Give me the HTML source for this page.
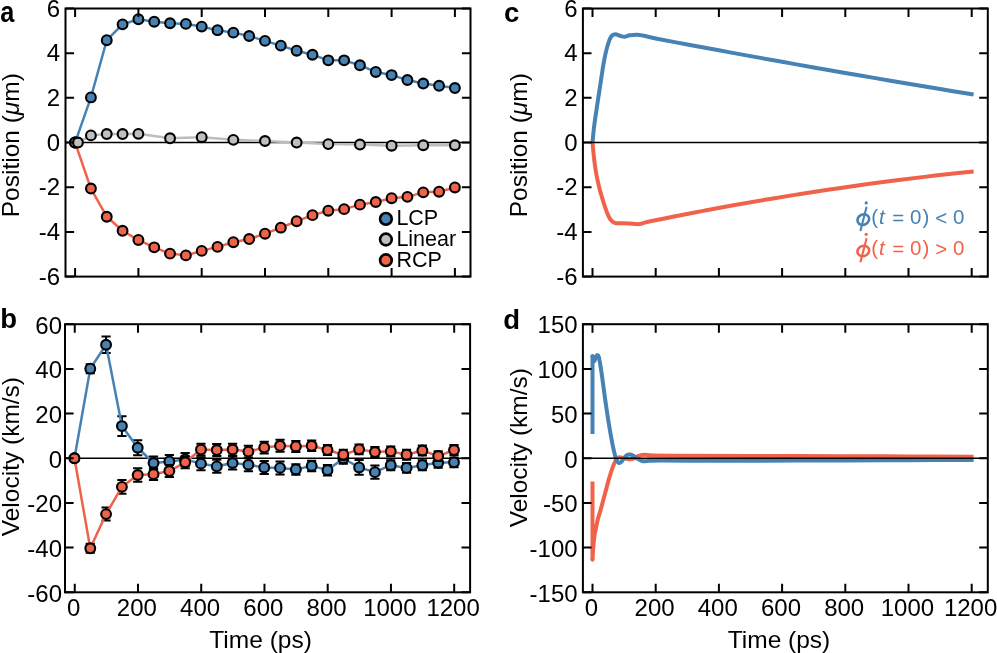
<!DOCTYPE html>
<html><head><meta charset="utf-8"><style>html,body{margin:0;padding:0;background:#fff;width:997px;height:653px;overflow:hidden}svg{display:block;will-change:transform}</style></head><body>
<svg width="997" height="653" viewBox="0 0 997 653" font-family="Liberation Sans, sans-serif" font-size="24">
<rect width="997" height="653" fill="#fff"/>
<line x1="65.5" y1="142.55" x2="470.5" y2="142.55" stroke="#000" stroke-width="1.6"/>
<path d="M75.10 142.55 L90.92 97.42 L106.75 40.22 L122.57 24.36 L138.40 19.22 L154.22 21.68 L170.05 23.24 L185.88 23.91 L201.70 26.60 L217.53 30.17 L233.35 32.63 L249.17 35.98 L265.00 40.89 L280.82 45.59 L296.65 50.72 L312.48 54.75 L328.30 60.33 L344.12 60.33 L359.95 65.25 L375.77 71.95 L391.60 75.08 L407.42 79.99 L423.25 83.57 L439.08 85.80 L454.90 88.04" fill="none" stroke="#4682B4" stroke-width="2.5" stroke-linejoin="round" stroke-linecap="round"/>
<circle cx="75.10" cy="142.55" r="4.9" fill="#4682B4" stroke="#000" stroke-width="2.1"/>
<circle cx="90.92" cy="97.42" r="4.9" fill="#4682B4" stroke="#000" stroke-width="2.1"/>
<circle cx="106.75" cy="40.22" r="4.9" fill="#4682B4" stroke="#000" stroke-width="2.1"/>
<circle cx="122.57" cy="24.36" r="4.9" fill="#4682B4" stroke="#000" stroke-width="2.1"/>
<circle cx="138.40" cy="19.22" r="4.9" fill="#4682B4" stroke="#000" stroke-width="2.1"/>
<circle cx="154.22" cy="21.68" r="4.9" fill="#4682B4" stroke="#000" stroke-width="2.1"/>
<circle cx="170.05" cy="23.24" r="4.9" fill="#4682B4" stroke="#000" stroke-width="2.1"/>
<circle cx="185.88" cy="23.91" r="4.9" fill="#4682B4" stroke="#000" stroke-width="2.1"/>
<circle cx="201.70" cy="26.60" r="4.9" fill="#4682B4" stroke="#000" stroke-width="2.1"/>
<circle cx="217.53" cy="30.17" r="4.9" fill="#4682B4" stroke="#000" stroke-width="2.1"/>
<circle cx="233.35" cy="32.63" r="4.9" fill="#4682B4" stroke="#000" stroke-width="2.1"/>
<circle cx="249.17" cy="35.98" r="4.9" fill="#4682B4" stroke="#000" stroke-width="2.1"/>
<circle cx="265.00" cy="40.89" r="4.9" fill="#4682B4" stroke="#000" stroke-width="2.1"/>
<circle cx="280.82" cy="45.59" r="4.9" fill="#4682B4" stroke="#000" stroke-width="2.1"/>
<circle cx="296.65" cy="50.72" r="4.9" fill="#4682B4" stroke="#000" stroke-width="2.1"/>
<circle cx="312.48" cy="54.75" r="4.9" fill="#4682B4" stroke="#000" stroke-width="2.1"/>
<circle cx="328.30" cy="60.33" r="4.9" fill="#4682B4" stroke="#000" stroke-width="2.1"/>
<circle cx="344.12" cy="60.33" r="4.9" fill="#4682B4" stroke="#000" stroke-width="2.1"/>
<circle cx="359.95" cy="65.25" r="4.9" fill="#4682B4" stroke="#000" stroke-width="2.1"/>
<circle cx="375.77" cy="71.95" r="4.9" fill="#4682B4" stroke="#000" stroke-width="2.1"/>
<circle cx="391.60" cy="75.08" r="4.9" fill="#4682B4" stroke="#000" stroke-width="2.1"/>
<circle cx="407.42" cy="79.99" r="4.9" fill="#4682B4" stroke="#000" stroke-width="2.1"/>
<circle cx="423.25" cy="83.57" r="4.9" fill="#4682B4" stroke="#000" stroke-width="2.1"/>
<circle cx="439.08" cy="85.80" r="4.9" fill="#4682B4" stroke="#000" stroke-width="2.1"/>
<circle cx="454.90" cy="88.04" r="4.9" fill="#4682B4" stroke="#000" stroke-width="2.1"/>
<path d="M75.10 142.55 L90.92 188.57 L106.75 216.73 L122.57 230.80 L138.40 239.96 L154.22 247.33 L170.05 253.59 L185.88 255.38 L201.70 250.91 L217.53 246.89 L233.35 242.20 L249.17 239.07 L265.00 233.71 L280.82 227.67 L296.65 221.19 L312.48 215.16 L328.30 210.69 L344.12 209.13 L359.95 204.66 L375.77 201.98 L391.60 198.18 L407.42 196.84 L423.25 192.37 L439.08 191.70 L454.90 187.46" fill="none" stroke="#F0634A" stroke-width="2.5" stroke-linejoin="round" stroke-linecap="round"/>
<circle cx="75.10" cy="142.55" r="4.9" fill="#F0634A" stroke="#000" stroke-width="2.1"/>
<circle cx="90.92" cy="188.57" r="4.9" fill="#F0634A" stroke="#000" stroke-width="2.1"/>
<circle cx="106.75" cy="216.73" r="4.9" fill="#F0634A" stroke="#000" stroke-width="2.1"/>
<circle cx="122.57" cy="230.80" r="4.9" fill="#F0634A" stroke="#000" stroke-width="2.1"/>
<circle cx="138.40" cy="239.96" r="4.9" fill="#F0634A" stroke="#000" stroke-width="2.1"/>
<circle cx="154.22" cy="247.33" r="4.9" fill="#F0634A" stroke="#000" stroke-width="2.1"/>
<circle cx="170.05" cy="253.59" r="4.9" fill="#F0634A" stroke="#000" stroke-width="2.1"/>
<circle cx="185.88" cy="255.38" r="4.9" fill="#F0634A" stroke="#000" stroke-width="2.1"/>
<circle cx="201.70" cy="250.91" r="4.9" fill="#F0634A" stroke="#000" stroke-width="2.1"/>
<circle cx="217.53" cy="246.89" r="4.9" fill="#F0634A" stroke="#000" stroke-width="2.1"/>
<circle cx="233.35" cy="242.20" r="4.9" fill="#F0634A" stroke="#000" stroke-width="2.1"/>
<circle cx="249.17" cy="239.07" r="4.9" fill="#F0634A" stroke="#000" stroke-width="2.1"/>
<circle cx="265.00" cy="233.71" r="4.9" fill="#F0634A" stroke="#000" stroke-width="2.1"/>
<circle cx="280.82" cy="227.67" r="4.9" fill="#F0634A" stroke="#000" stroke-width="2.1"/>
<circle cx="296.65" cy="221.19" r="4.9" fill="#F0634A" stroke="#000" stroke-width="2.1"/>
<circle cx="312.48" cy="215.16" r="4.9" fill="#F0634A" stroke="#000" stroke-width="2.1"/>
<circle cx="328.30" cy="210.69" r="4.9" fill="#F0634A" stroke="#000" stroke-width="2.1"/>
<circle cx="344.12" cy="209.13" r="4.9" fill="#F0634A" stroke="#000" stroke-width="2.1"/>
<circle cx="359.95" cy="204.66" r="4.9" fill="#F0634A" stroke="#000" stroke-width="2.1"/>
<circle cx="375.77" cy="201.98" r="4.9" fill="#F0634A" stroke="#000" stroke-width="2.1"/>
<circle cx="391.60" cy="198.18" r="4.9" fill="#F0634A" stroke="#000" stroke-width="2.1"/>
<circle cx="407.42" cy="196.84" r="4.9" fill="#F0634A" stroke="#000" stroke-width="2.1"/>
<circle cx="423.25" cy="192.37" r="4.9" fill="#F0634A" stroke="#000" stroke-width="2.1"/>
<circle cx="439.08" cy="191.70" r="4.9" fill="#F0634A" stroke="#000" stroke-width="2.1"/>
<circle cx="454.90" cy="187.46" r="4.9" fill="#F0634A" stroke="#000" stroke-width="2.1"/>
<path d="M75.10 142.55 L77.95 142.55 L90.92 135.40 L106.75 134.06 L122.57 134.06 L138.40 133.84 L170.05 138.31 L201.70 137.19 L233.35 139.87 L265.00 140.99 L296.65 142.55 L328.30 144.11 L359.95 144.56 L391.60 145.68 L423.25 145.23 L454.90 145.23" fill="none" stroke="#BDBDBD" stroke-width="2.5" stroke-linejoin="round" stroke-linecap="round"/>
<circle cx="75.10" cy="142.55" r="4.9" fill="#BFBFBF" stroke="#000" stroke-width="2.1"/>
<circle cx="77.95" cy="142.55" r="4.9" fill="#BFBFBF" stroke="#000" stroke-width="2.1"/>
<circle cx="90.92" cy="135.40" r="4.9" fill="#BFBFBF" stroke="#000" stroke-width="2.1"/>
<circle cx="106.75" cy="134.06" r="4.9" fill="#BFBFBF" stroke="#000" stroke-width="2.1"/>
<circle cx="122.57" cy="134.06" r="4.9" fill="#BFBFBF" stroke="#000" stroke-width="2.1"/>
<circle cx="138.40" cy="133.84" r="4.9" fill="#BFBFBF" stroke="#000" stroke-width="2.1"/>
<circle cx="170.05" cy="138.31" r="4.9" fill="#BFBFBF" stroke="#000" stroke-width="2.1"/>
<circle cx="201.70" cy="137.19" r="4.9" fill="#BFBFBF" stroke="#000" stroke-width="2.1"/>
<circle cx="233.35" cy="139.87" r="4.9" fill="#BFBFBF" stroke="#000" stroke-width="2.1"/>
<circle cx="265.00" cy="140.99" r="4.9" fill="#BFBFBF" stroke="#000" stroke-width="2.1"/>
<circle cx="296.65" cy="142.55" r="4.9" fill="#BFBFBF" stroke="#000" stroke-width="2.1"/>
<circle cx="328.30" cy="144.11" r="4.9" fill="#BFBFBF" stroke="#000" stroke-width="2.1"/>
<circle cx="359.95" cy="144.56" r="4.9" fill="#BFBFBF" stroke="#000" stroke-width="2.1"/>
<circle cx="391.60" cy="145.68" r="4.9" fill="#BFBFBF" stroke="#000" stroke-width="2.1"/>
<circle cx="423.25" cy="145.23" r="4.9" fill="#BFBFBF" stroke="#000" stroke-width="2.1"/>
<circle cx="454.90" cy="145.23" r="4.9" fill="#BFBFBF" stroke="#000" stroke-width="2.1"/>
<rect x="65.5" y="8.5" width="405.00" height="268.10" fill="none" stroke="#000" stroke-width="2"/>
<path d="M75.10 276.60V268.10M75.10 8.50V17.00M138.40 276.60V268.10M138.40 8.50V17.00M201.70 276.60V268.10M201.70 8.50V17.00M265.00 276.60V268.10M265.00 8.50V17.00M328.30 276.60V268.10M328.30 8.50V17.00M391.60 276.60V268.10M391.60 8.50V17.00M454.90 276.60V268.10M454.90 8.50V17.00" stroke="#000" stroke-width="2" fill="none"/>
<path d="M65.50 8.50H74.10M470.50 8.50H461.90M65.50 53.18H74.10M470.50 53.18H461.90M65.50 97.87H74.10M470.50 97.87H461.90M65.50 142.55H74.10M470.50 142.55H461.90M65.50 187.23H74.10M470.50 187.23H461.90M65.50 231.92H74.10M470.50 231.92H461.90M65.50 276.60H74.10M470.50 276.60H461.90" stroke="#000" stroke-width="2" fill="none"/>
<text x="60.20" y="16.76" text-anchor="end">6</text>
<text x="60.20" y="61.44" text-anchor="end">4</text>
<text x="60.20" y="106.13" text-anchor="end">2</text>
<text x="60.20" y="150.81" text-anchor="end">0</text>
<text x="60.20" y="195.49" text-anchor="end">-2</text>
<text x="60.20" y="240.18" text-anchor="end">-4</text>
<text x="60.20" y="284.86" text-anchor="end">-6</text>
<circle cx="385.9" cy="218.90" r="5.85" fill="#4682B4" stroke="#000" stroke-width="2.6"/>
<text x="396.4" y="225.00" font-size="21.5">LCP</text>
<circle cx="385.9" cy="239.50" r="5.85" fill="#BFBFBF" stroke="#000" stroke-width="2.6"/>
<text x="396.4" y="246.10" font-size="21.5">Linear</text>
<circle cx="385.9" cy="260.20" r="5.85" fill="#F0634A" stroke="#000" stroke-width="2.6"/>
<text x="396.4" y="267.30" font-size="21.5">RCP</text>
<line x1="65.0" y1="458.25" x2="470.1" y2="458.25" stroke="#000" stroke-width="1.6"/>
<path d="M74.45 458.25V458.25M69.85 458.25H79.05M69.85 458.25H79.05M90.27 364.20V373.13M85.67 364.20H94.86M85.67 373.13H94.86M106.08 336.50V353.03M101.48 336.50H110.68M101.48 353.03H110.68M121.90 416.25V435.91M117.30 416.25H126.50M117.30 435.91H126.50M137.71 440.15V455.35M133.11 440.15H142.31M133.11 455.35H142.31M153.53 456.51V469.46M148.93 456.51H158.12M148.93 469.46H158.12M169.34 454.94V467.90M164.74 454.94H173.94M164.74 467.90H173.94M185.16 452.93V465.89M180.56 452.93H189.76M180.56 465.89H189.76M200.97 457.18V470.13M196.37 457.18H205.57M196.37 470.13H205.57M216.79 459.86V472.82M212.19 459.86H221.39M212.19 472.82H221.39M232.60 456.51V469.46M228.00 456.51H237.20M228.00 469.46H237.20M248.42 458.29V471.25M243.82 458.29H253.02M243.82 471.25H253.02M264.23 460.98V473.93M259.63 460.98H268.83M259.63 473.93H268.83M280.05 461.42V474.38M275.44 461.42H284.65M275.44 474.38H284.65M295.86 464.21V474.71M291.26 464.21H300.46M291.26 474.71H300.46M311.68 460.64V471.14M307.07 460.64H316.28M307.07 471.14H316.28M327.49 464.88V475.38M322.89 464.88H332.09M322.89 475.38H332.09M343.31 453.27V463.77M338.70 453.27H347.91M338.70 463.77H347.91M359.12 460.08V474.83M354.52 460.08H363.72M354.52 474.83H363.72M374.94 465.44V478.85M370.33 465.44H379.54M370.33 478.85H379.54M390.75 460.31V470.13M386.15 460.31H395.35M386.15 470.13H395.35M406.56 462.99V472.82M401.96 462.99H411.17M401.96 472.82H411.17M422.38 460.31V470.13M417.78 460.31H426.98M417.78 470.13H426.98M438.19 457.85V467.68M433.59 457.85H442.80M433.59 467.68H442.80M454.01 457.40V467.23M449.41 457.40H458.61M449.41 467.23H458.61" stroke="#000" stroke-width="2" fill="none"/>
<path d="M74.45 458.25 L90.27 368.67 L106.08 344.76 L121.90 426.08 L137.71 447.75 L153.53 462.99 L169.34 461.42 L185.16 459.41 L200.97 463.66 L216.79 466.34 L232.60 462.99 L248.42 464.77 L264.23 467.45 L280.05 467.90 L295.86 469.46 L311.68 465.89 L327.49 470.13 L343.31 458.52 L359.12 467.45 L374.94 472.15 L390.75 465.22 L406.56 467.90 L422.38 465.22 L438.19 462.76 L454.01 462.32" fill="none" stroke="#4682B4" stroke-width="2.5" stroke-linejoin="round" stroke-linecap="round"/>
<circle cx="74.45" cy="458.25" r="4.9" fill="#4682B4" stroke="#000" stroke-width="2.1"/>
<circle cx="90.27" cy="368.67" r="4.9" fill="#4682B4" stroke="#000" stroke-width="2.1"/>
<circle cx="106.08" cy="344.76" r="4.9" fill="#4682B4" stroke="#000" stroke-width="2.1"/>
<circle cx="121.90" cy="426.08" r="4.9" fill="#4682B4" stroke="#000" stroke-width="2.1"/>
<circle cx="137.71" cy="447.75" r="4.9" fill="#4682B4" stroke="#000" stroke-width="2.1"/>
<circle cx="153.53" cy="462.99" r="4.9" fill="#4682B4" stroke="#000" stroke-width="2.1"/>
<circle cx="169.34" cy="461.42" r="4.9" fill="#4682B4" stroke="#000" stroke-width="2.1"/>
<circle cx="185.16" cy="459.41" r="4.9" fill="#4682B4" stroke="#000" stroke-width="2.1"/>
<circle cx="200.97" cy="463.66" r="4.9" fill="#4682B4" stroke="#000" stroke-width="2.1"/>
<circle cx="216.79" cy="466.34" r="4.9" fill="#4682B4" stroke="#000" stroke-width="2.1"/>
<circle cx="232.60" cy="462.99" r="4.9" fill="#4682B4" stroke="#000" stroke-width="2.1"/>
<circle cx="248.42" cy="464.77" r="4.9" fill="#4682B4" stroke="#000" stroke-width="2.1"/>
<circle cx="264.23" cy="467.45" r="4.9" fill="#4682B4" stroke="#000" stroke-width="2.1"/>
<circle cx="280.05" cy="467.90" r="4.9" fill="#4682B4" stroke="#000" stroke-width="2.1"/>
<circle cx="295.86" cy="469.46" r="4.9" fill="#4682B4" stroke="#000" stroke-width="2.1"/>
<circle cx="311.68" cy="465.89" r="4.9" fill="#4682B4" stroke="#000" stroke-width="2.1"/>
<circle cx="327.49" cy="470.13" r="4.9" fill="#4682B4" stroke="#000" stroke-width="2.1"/>
<circle cx="343.31" cy="458.52" r="4.9" fill="#4682B4" stroke="#000" stroke-width="2.1"/>
<circle cx="359.12" cy="467.45" r="4.9" fill="#4682B4" stroke="#000" stroke-width="2.1"/>
<circle cx="374.94" cy="472.15" r="4.9" fill="#4682B4" stroke="#000" stroke-width="2.1"/>
<circle cx="390.75" cy="465.22" r="4.9" fill="#4682B4" stroke="#000" stroke-width="2.1"/>
<circle cx="406.56" cy="467.90" r="4.9" fill="#4682B4" stroke="#000" stroke-width="2.1"/>
<circle cx="422.38" cy="465.22" r="4.9" fill="#4682B4" stroke="#000" stroke-width="2.1"/>
<circle cx="438.19" cy="462.76" r="4.9" fill="#4682B4" stroke="#000" stroke-width="2.1"/>
<circle cx="454.01" cy="462.32" r="4.9" fill="#4682B4" stroke="#000" stroke-width="2.1"/>
<path d="M74.45 458.25V458.25M69.85 458.25H79.05M69.85 458.25H79.05M90.27 543.81V552.75M85.67 543.81H94.86M85.67 552.75H94.86M106.08 507.62V520.58M101.48 507.62H110.68M101.48 520.58H110.68M121.90 479.92V493.77M117.30 479.92H126.50M117.30 493.77H126.50M137.71 468.30V481.71M133.11 468.30H142.31M133.11 481.71H142.31M153.53 468.24V480.08M148.93 468.24H158.12M148.93 480.08H158.12M169.34 465.11V476.95M164.74 465.11H173.94M164.74 476.95H173.94M185.16 456.40V468.24M180.56 456.40H189.76M180.56 468.24H189.76M200.97 443.66V455.50M196.37 443.66H205.57M196.37 455.50H205.57M216.79 444.11V455.95M212.19 444.11H221.39M212.19 455.95H221.39M232.60 443.66V455.50M228.00 443.66H237.20M228.00 455.50H237.20M248.42 445.67V457.51M243.82 445.67H253.02M243.82 457.51H253.02M264.23 441.65V453.49M259.63 441.65H268.83M259.63 453.49H268.83M280.05 439.86V451.70M275.44 439.86H284.65M275.44 451.70H284.65M295.86 440.98V451.93M291.26 440.98H300.46M291.26 451.93H300.46M311.68 440.53V451.03M307.07 440.53H316.28M307.07 451.03H316.28M327.49 445.11V454.94M322.89 445.11H332.09M322.89 454.94H332.09M343.31 449.81V459.64M338.70 449.81H347.91M338.70 459.64H347.91M359.12 444.44V454.27M354.52 444.44H363.72M354.52 454.27H363.72M374.94 447.12V456.95M370.33 447.12H379.54M370.33 456.95H379.54M390.75 446.45V456.28M386.15 446.45H395.35M386.15 456.28H395.35M406.56 449.81V459.64M401.96 449.81H411.17M401.96 459.64H411.17M422.38 445.56V455.39M417.78 445.56H426.98M417.78 455.39H426.98M438.19 451.15V460.98M433.59 451.15H442.80M433.59 460.98H442.80M454.01 445.11V454.94M449.41 445.11H458.61M449.41 454.94H458.61" stroke="#000" stroke-width="2" fill="none"/>
<path d="M74.45 458.25 L90.27 548.28 L106.08 514.10 L121.90 486.85 L137.71 475.00 L153.53 474.16 L169.34 471.03 L185.16 462.32 L200.97 449.58 L216.79 450.03 L232.60 449.58 L248.42 451.59 L264.23 447.57 L280.05 445.78 L295.86 446.45 L311.68 445.78 L327.49 450.03 L343.31 454.72 L359.12 449.36 L374.94 452.04 L390.75 451.37 L406.56 454.72 L422.38 450.48 L438.19 456.06 L454.01 450.03" fill="none" stroke="#F0634A" stroke-width="2.5" stroke-linejoin="round" stroke-linecap="round"/>
<circle cx="74.45" cy="458.25" r="4.9" fill="#F0634A" stroke="#000" stroke-width="2.1"/>
<circle cx="90.27" cy="548.28" r="4.9" fill="#F0634A" stroke="#000" stroke-width="2.1"/>
<circle cx="106.08" cy="514.10" r="4.9" fill="#F0634A" stroke="#000" stroke-width="2.1"/>
<circle cx="121.90" cy="486.85" r="4.9" fill="#F0634A" stroke="#000" stroke-width="2.1"/>
<circle cx="137.71" cy="475.00" r="4.9" fill="#F0634A" stroke="#000" stroke-width="2.1"/>
<circle cx="153.53" cy="474.16" r="4.9" fill="#F0634A" stroke="#000" stroke-width="2.1"/>
<circle cx="169.34" cy="471.03" r="4.9" fill="#F0634A" stroke="#000" stroke-width="2.1"/>
<circle cx="185.16" cy="462.32" r="4.9" fill="#F0634A" stroke="#000" stroke-width="2.1"/>
<circle cx="200.97" cy="449.58" r="4.9" fill="#F0634A" stroke="#000" stroke-width="2.1"/>
<circle cx="216.79" cy="450.03" r="4.9" fill="#F0634A" stroke="#000" stroke-width="2.1"/>
<circle cx="232.60" cy="449.58" r="4.9" fill="#F0634A" stroke="#000" stroke-width="2.1"/>
<circle cx="248.42" cy="451.59" r="4.9" fill="#F0634A" stroke="#000" stroke-width="2.1"/>
<circle cx="264.23" cy="447.57" r="4.9" fill="#F0634A" stroke="#000" stroke-width="2.1"/>
<circle cx="280.05" cy="445.78" r="4.9" fill="#F0634A" stroke="#000" stroke-width="2.1"/>
<circle cx="295.86" cy="446.45" r="4.9" fill="#F0634A" stroke="#000" stroke-width="2.1"/>
<circle cx="311.68" cy="445.78" r="4.9" fill="#F0634A" stroke="#000" stroke-width="2.1"/>
<circle cx="327.49" cy="450.03" r="4.9" fill="#F0634A" stroke="#000" stroke-width="2.1"/>
<circle cx="343.31" cy="454.72" r="4.9" fill="#F0634A" stroke="#000" stroke-width="2.1"/>
<circle cx="359.12" cy="449.36" r="4.9" fill="#F0634A" stroke="#000" stroke-width="2.1"/>
<circle cx="374.94" cy="452.04" r="4.9" fill="#F0634A" stroke="#000" stroke-width="2.1"/>
<circle cx="390.75" cy="451.37" r="4.9" fill="#F0634A" stroke="#000" stroke-width="2.1"/>
<circle cx="406.56" cy="454.72" r="4.9" fill="#F0634A" stroke="#000" stroke-width="2.1"/>
<circle cx="422.38" cy="450.48" r="4.9" fill="#F0634A" stroke="#000" stroke-width="2.1"/>
<circle cx="438.19" cy="456.06" r="4.9" fill="#F0634A" stroke="#000" stroke-width="2.1"/>
<circle cx="454.01" cy="450.03" r="4.9" fill="#F0634A" stroke="#000" stroke-width="2.1"/>
<rect x="65.0" y="324.2" width="405.10" height="268.10" fill="none" stroke="#000" stroke-width="2"/>
<path d="M74.75 592.30V583.80M74.75 324.20V332.70M137.99 592.30V583.80M137.99 324.20V332.70M201.23 592.30V583.80M201.23 324.20V332.70M264.47 592.30V583.80M264.47 324.20V332.70M327.71 592.30V583.80M327.71 324.20V332.70M390.95 592.30V583.80M390.95 324.20V332.70M454.19 592.30V583.80M454.19 324.20V332.70" stroke="#000" stroke-width="2" fill="none"/>
<text x="73.65" y="615.6" text-anchor="middle">0</text>
<text x="136.89" y="615.6" text-anchor="middle">200</text>
<text x="200.13" y="615.6" text-anchor="middle">400</text>
<text x="263.37" y="615.6" text-anchor="middle">600</text>
<text x="326.61" y="615.6" text-anchor="middle">800</text>
<text x="389.85" y="615.6" text-anchor="middle">1000</text>
<text x="453.09" y="615.6" text-anchor="middle">1200</text>
<path d="M65.00 324.21H73.60M470.10 324.21H461.50M65.00 368.89H73.60M470.10 368.89H461.50M65.00 413.57H73.60M470.10 413.57H461.50M65.00 458.25H73.60M470.10 458.25H461.50M65.00 502.93H73.60M470.10 502.93H461.50M65.00 547.61H73.60M470.10 547.61H461.50M65.00 592.29H73.60M470.10 592.29H461.50" stroke="#000" stroke-width="2" fill="none"/>
<text x="62.00" y="333.57" text-anchor="end">60</text>
<text x="62.00" y="378.25" text-anchor="end">40</text>
<text x="62.00" y="422.93" text-anchor="end">20</text>
<text x="62.00" y="467.61" text-anchor="end">0</text>
<text x="62.00" y="512.29" text-anchor="end">-20</text>
<text x="62.00" y="556.97" text-anchor="end">-40</text>
<text x="62.00" y="601.65" text-anchor="end">-60</text>
<path d="M592.50 142.55 C592.73 144.93 593.31 151.90 593.89 156.85 C594.47 161.80 595.08 167.13 595.98 172.26 C596.88 177.40 598.29 183.51 599.29 187.68 C600.29 191.85 601.01 194.01 601.98 197.29 C602.95 200.56 604.09 204.29 605.14 207.34 C606.19 210.40 607.25 213.37 608.30 215.61 C609.35 217.84 610.41 219.56 611.46 220.75 C612.51 221.94 613.57 222.35 614.62 222.76 C615.67 223.17 615.41 223.09 617.78 223.20 C620.15 223.32 625.26 223.28 628.84 223.43 C632.42 223.58 636.06 224.38 639.27 224.10 C642.48 223.82 642.74 222.94 648.12 221.75 C653.49 220.57 662.34 218.81 671.50 216.99 C680.66 215.18 692.57 212.86 703.10 210.87 C713.63 208.88 724.17 206.93 734.70 205.04 C745.23 203.15 755.77 201.32 766.30 199.54 C776.83 197.76 787.37 196.03 797.90 194.36 C808.43 192.69 818.97 191.08 829.50 189.51 C840.03 187.95 850.57 186.44 861.10 184.98 C871.63 183.52 882.17 182.11 892.70 180.75 C903.23 179.40 913.77 178.11 924.30 176.87 C934.83 175.62 947.68 174.18 955.90 173.27 C964.12 172.36 970.65 171.72 973.60 171.42" fill="none" stroke="#F0634A" stroke-width="4.0" stroke-linejoin="round" stroke-linecap="butt"/>
<path d="M592.50 142.55 C592.79 139.72 593.37 132.38 594.24 125.57 C595.11 118.76 596.58 109.26 597.71 101.66 C598.85 94.07 600.03 86.51 601.03 79.99 C602.03 73.48 602.80 67.67 603.72 62.57 C604.64 57.46 605.59 53.18 606.56 49.38 C607.54 45.59 608.61 42.12 609.56 39.78 C610.52 37.43 611.28 36.24 612.28 35.31 C613.28 34.38 614.28 34.12 615.57 34.19 C616.85 34.27 618.54 35.31 619.99 35.76 C621.45 36.20 622.67 36.95 624.29 36.87 C625.91 36.80 627.55 35.68 629.72 35.31 C631.89 34.94 634.95 34.56 637.31 34.64 C639.67 34.71 640.82 35.10 643.88 35.76 C646.95 36.41 648.46 37.09 655.70 38.55 C662.94 40.00 676.77 42.53 687.30 44.49 C697.83 46.45 708.37 48.39 718.90 50.32 C729.43 52.26 739.97 54.20 750.50 56.11 C761.03 58.02 771.57 59.90 782.10 61.78 C792.63 63.67 803.17 65.56 813.70 67.41 C824.23 69.27 834.77 71.10 845.30 72.93 C855.83 74.76 866.37 76.58 876.90 78.38 C887.43 80.19 897.97 81.99 908.50 83.77 C919.03 85.55 929.25 87.26 940.10 89.06 C950.95 90.87 968.01 93.66 973.60 94.58" fill="none" stroke="#4682B4" stroke-width="4.0" stroke-linejoin="round" stroke-linecap="butt"/>
<line x1="582.9" y1="142.55" x2="987.8" y2="142.55" stroke="#000" stroke-width="1.6"/>
<rect x="582.9" y="8.5" width="404.90" height="268.10" fill="none" stroke="#000" stroke-width="2"/>
<path d="M592.50 276.60V268.10M592.50 8.50V17.00M655.70 276.60V268.10M655.70 8.50V17.00M718.90 276.60V268.10M718.90 8.50V17.00M782.10 276.60V268.10M782.10 8.50V17.00M845.30 276.60V268.10M845.30 8.50V17.00M908.50 276.60V268.10M908.50 8.50V17.00M971.70 276.60V268.10M971.70 8.50V17.00" stroke="#000" stroke-width="2" fill="none"/>
<path d="M582.90 8.50H591.50M987.80 8.50H979.20M582.90 53.18H591.50M987.80 53.18H979.20M582.90 97.87H591.50M987.80 97.87H979.20M582.90 142.55H591.50M987.80 142.55H979.20M582.90 187.23H591.50M987.80 187.23H979.20M582.90 231.92H591.50M987.80 231.92H979.20M582.90 276.60H591.50M987.80 276.60H979.20" stroke="#000" stroke-width="2" fill="none"/>
<text x="577.60" y="16.76" text-anchor="end">6</text>
<text x="577.60" y="61.44" text-anchor="end">4</text>
<text x="577.60" y="106.13" text-anchor="end">2</text>
<text x="577.60" y="150.81" text-anchor="end">0</text>
<text x="577.60" y="195.49" text-anchor="end">-2</text>
<text x="577.60" y="240.18" text-anchor="end">-4</text>
<text x="577.60" y="284.86" text-anchor="end">-6</text>
<path d="M592.50 481.49L592.50 559.51 C592.58 558.12 592.79 553.92 592.97 551.19 C593.16 548.47 593.34 545.83 593.61 543.15 C593.87 540.47 594.19 537.49 594.55 535.11 C594.92 532.73 595.26 531.53 595.82 528.85 C596.37 526.17 597.16 521.85 597.87 519.02 C598.58 516.19 599.19 515.00 600.08 511.87 C600.98 508.74 602.09 504.57 603.24 500.25 C604.40 495.93 606.04 489.68 607.04 485.95 C608.04 482.23 608.35 480.89 609.25 477.91 C610.14 474.93 611.41 470.84 612.41 468.08 C613.41 465.33 614.46 462.99 615.25 461.38 C616.04 459.77 616.46 459.10 617.15 458.43 C617.83 457.76 618.31 457.42 619.36 457.36 C620.41 457.30 621.85 457.77 623.47 458.07 C625.09 458.37 627.35 459.07 629.09 459.14 C630.83 459.22 632.31 459.04 633.90 458.52 C635.49 458.00 636.79 456.63 638.64 456.02 C640.48 455.41 642.53 454.93 644.96 454.85 C647.38 454.78 646.11 455.42 653.17 455.57 C660.23 455.72 671.08 455.69 687.30 455.75 C703.52 455.81 724.17 455.85 750.50 455.93 C776.83 456.00 818.97 456.11 845.30 456.19 C871.63 456.28 887.12 456.36 908.50 456.46 C929.88 456.57 962.75 456.76 973.60 456.82" fill="none" stroke="#F0634A" stroke-width="4.0" stroke-linejoin="round" stroke-linecap="butt"/>
<circle cx="592.50" cy="559.51" r="2.0" fill="#F0634A"/>
<path d="M592.50 433.94L592.50 356.37 C592.65 356.89 593.10 358.68 593.38 359.50 C593.67 360.32 593.91 361.43 594.24 361.28 C594.56 361.13 594.98 359.50 595.34 358.60 C595.71 357.71 596.06 356.47 596.45 355.92 C596.85 355.37 597.29 355.00 597.71 355.30 C598.14 355.59 598.35 354.85 598.98 357.71 C599.61 360.57 600.48 365.53 601.51 372.45 C602.53 379.38 603.90 390.63 605.14 399.27 C606.38 407.90 607.72 416.84 608.93 424.29 C610.14 431.74 611.46 439.04 612.41 443.95 C613.36 448.87 613.99 451.22 614.62 453.78 C615.25 456.34 615.46 457.77 616.20 459.32 C616.94 460.87 618.04 462.82 619.04 463.08 C620.04 463.33 621.06 462.03 622.20 460.84 C623.35 459.65 624.75 456.97 625.90 455.93 C627.05 454.88 627.89 454.65 629.09 454.59 C630.29 454.53 631.78 454.91 633.11 455.57 C634.43 456.22 635.45 457.58 637.06 458.52 C638.66 459.46 640.74 460.81 642.74 461.20 C644.75 461.59 646.01 460.95 649.06 460.84 C652.12 460.74 654.70 460.60 661.07 460.57 C667.44 460.55 672.40 460.67 687.30 460.71 C702.20 460.74 724.17 460.85 750.50 460.80 C776.83 460.74 818.97 460.51 845.30 460.39 C871.63 460.28 887.12 460.21 908.50 460.13 C929.88 460.04 962.75 459.94 973.60 459.90" fill="none" stroke="#4682B4" stroke-width="4.0" stroke-linejoin="round" stroke-linecap="butt"/>
<circle cx="592.50" cy="356.37" r="2.0" fill="#4682B4"/>
<line x1="582.9" y1="458.25" x2="987.8" y2="458.25" stroke="#000" stroke-width="1.6"/>
<rect x="582.9" y="324.2" width="404.90" height="268.10" fill="none" stroke="#000" stroke-width="2"/>
<path d="M592.50 592.30V583.80M592.50 324.20V332.70M655.70 592.30V583.80M655.70 324.20V332.70M718.90 592.30V583.80M718.90 324.20V332.70M782.10 592.30V583.80M782.10 324.20V332.70M845.30 592.30V583.80M845.30 324.20V332.70M908.50 592.30V583.80M908.50 324.20V332.70M971.70 592.30V583.80M971.70 324.20V332.70" stroke="#000" stroke-width="2" fill="none"/>
<text x="591.40" y="615.6" text-anchor="middle">0</text>
<text x="654.60" y="615.6" text-anchor="middle">200</text>
<text x="717.80" y="615.6" text-anchor="middle">400</text>
<text x="781.00" y="615.6" text-anchor="middle">600</text>
<text x="844.20" y="615.6" text-anchor="middle">800</text>
<text x="907.40" y="615.6" text-anchor="middle">1000</text>
<text x="970.60" y="615.6" text-anchor="middle">1200</text>
<path d="M582.90 324.19H591.50M987.80 324.19H979.20M582.90 368.88H591.50M987.80 368.88H979.20M582.90 413.56H591.50M987.80 413.56H979.20M582.90 458.25H591.50M987.80 458.25H979.20M582.90 502.94H591.50M987.80 502.94H979.20M582.90 547.62H591.50M987.80 547.62H979.20M582.90 592.31H591.50M987.80 592.31H979.20" stroke="#000" stroke-width="2" fill="none"/>
<text x="577.60" y="333.45" text-anchor="end">150</text>
<text x="577.60" y="378.14" text-anchor="end">100</text>
<text x="577.60" y="422.82" text-anchor="end">50</text>
<text x="577.60" y="467.51" text-anchor="end">0</text>
<text x="577.60" y="512.19" text-anchor="end">-50</text>
<text x="577.60" y="556.88" text-anchor="end">-100</text>
<text x="577.60" y="601.57" text-anchor="end">-150</text>
<text x="260.6" y="648" text-anchor="middle" font-size="24.5">Time (ps)</text>
<text x="779.0" y="648" text-anchor="middle" font-size="24.5">Time (ps)</text>
<text transform="translate(18.6,145.2) rotate(-90)" text-anchor="middle" font-size="24.5">Position (<tspan font-style="italic">μ</tspan>m)</text>
<text transform="translate(18.6,456.6) rotate(-90)" text-anchor="middle" font-size="24.5">Velocity (km/s)</text>
<text transform="translate(526.7,145.2) rotate(-90)" text-anchor="middle" font-size="24.5">Position (<tspan font-style="italic">μ</tspan>m)</text>
<text transform="translate(526.7,447.7) rotate(-90)" text-anchor="middle" font-size="24.5">Velocity (km/s)</text>
<text transform="translate(0.3,21.9) scale(0.92,1.04)" font-weight="bold" font-size="27.5">a</text>
<text transform="translate(0.3,328.0) scale(1,1)" font-weight="bold" font-size="27.5">b</text>
<text transform="translate(504.0,21.8) scale(1,1)" font-weight="bold" font-size="27.5">c</text>
<text transform="translate(503.2,328.5) scale(1,1)" font-weight="bold" font-size="27.5">d</text>
<g stroke="#4682B4" fill="none"><ellipse cx="863.3" cy="219.60" rx="6.0" ry="5.1" stroke-width="2.6" transform="rotate(-25 863.3 219.60)"/><path d="M866.4 207.60L860.6 230.20" stroke-width="2.1" stroke-linecap="round"/></g>
<circle cx="866.2" cy="202.90" r="1.6" fill="#4682B4"/>
<text y="224.00" fill="#4682B4" font-size="20.5"><tspan x="871.3">(</tspan><tspan x="879.0" font-style="italic">t</tspan><tspan x="892.2" dy="0.8">=</tspan><tspan x="909.9" dy="-0.8">0</tspan><tspan x="922.6">)</tspan><tspan x="935.2" dy="0.8">&lt;</tspan><tspan x="953.1" dy="-0.8">0</tspan></text>
<g stroke="#F0634A" fill="none"><ellipse cx="863.3" cy="251.00" rx="6.0" ry="5.1" stroke-width="2.6" transform="rotate(-25 863.3 251.00)"/><path d="M866.4 239.00L860.6 261.60" stroke-width="2.1" stroke-linecap="round"/></g>
<circle cx="866.2" cy="234.30" r="1.6" fill="#F0634A"/>
<text y="255.40" fill="#F0634A" font-size="20.5"><tspan x="871.3">(</tspan><tspan x="879.0" font-style="italic">t</tspan><tspan x="892.2" dy="0.8">=</tspan><tspan x="909.9" dy="-0.8">0</tspan><tspan x="922.6">)</tspan><tspan x="935.2" dy="0.8">&gt;</tspan><tspan x="953.1" dy="-0.8">0</tspan></text>
</svg>
</body></html>
